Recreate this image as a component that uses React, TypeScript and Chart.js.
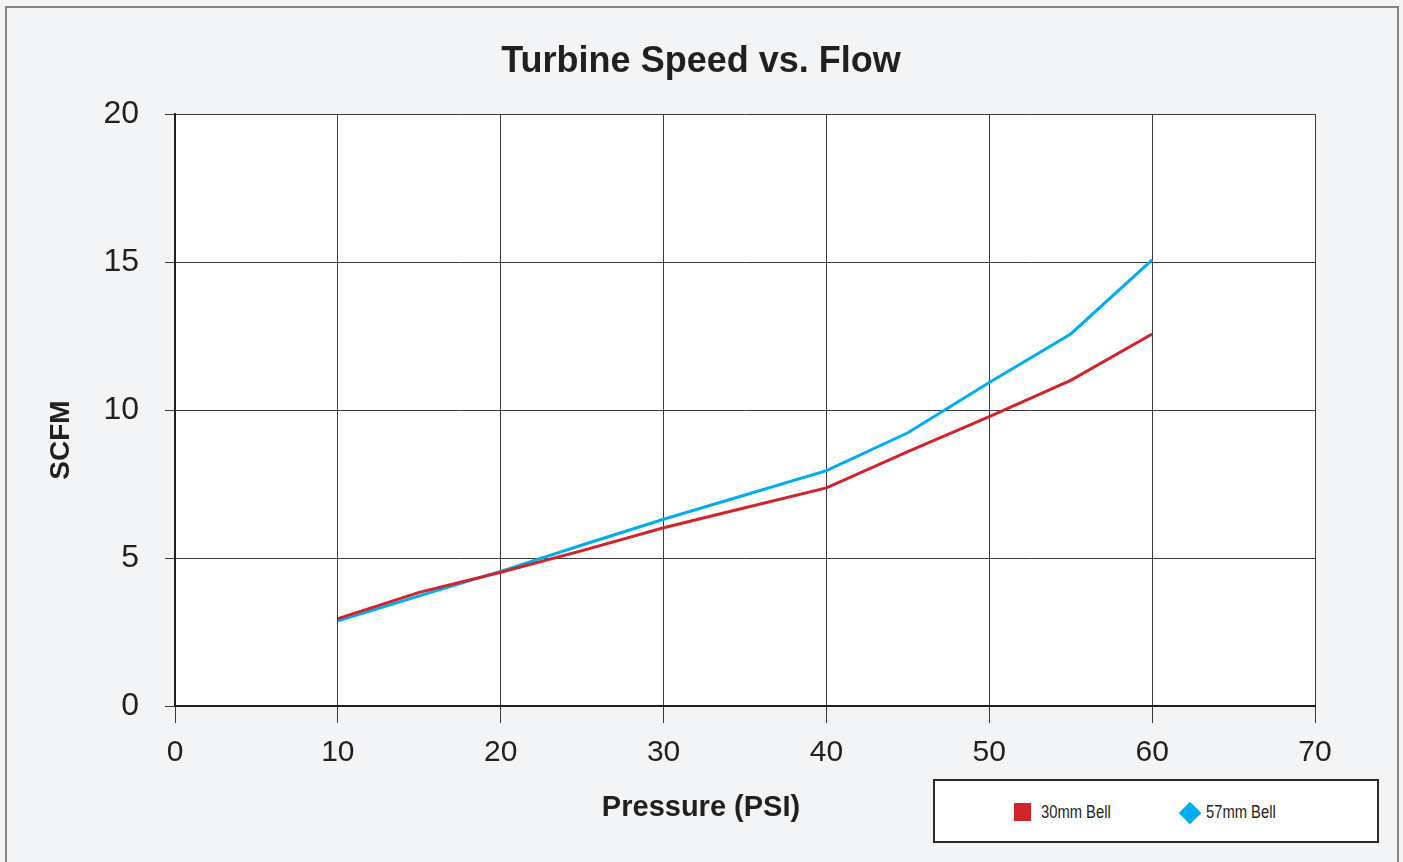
import React, { useEffect, useRef } from "react";
import { Chart, registerables } from "chart.js";

Chart.register(...registerables);

const pressure = [10, 15, 20, 25, 30, 35, 40, 45, 50, 55, 60];
const bell30 = [2.95, 3.84, 4.52, 5.25, 6.02, 6.7, 7.37, 8.59, 9.78, 11.0, 12.57];
const bell57 = [2.88, 3.72, 4.55, 5.44, 6.31, 7.13, 7.95, 9.23, 10.93, 12.57, 15.07];
const seriesNames = ["30mm Bell", "57mm Bell"];
const seriesColors = ["#d2232a", "#00aeef"];
const titleText = "Turbine Speed vs. Flow";
const xTitle = "Pressure (PSI)";
const yTitle = "SCFM";

const FONT = "'Liberation Sans', Arial, Helvetica, sans-serif";
const TEXT = "#231f20";

const backgroundPlugin = {
  id: "bgFrame",
  beforeDraw(chart: any) {
    const { ctx, chartArea } = chart;
    ctx.save();
    ctx.fillStyle = "#f3f4f6";
    ctx.fillRect(0, 0, chart.width, chart.height);
    ctx.strokeStyle = "#858585";
    ctx.lineWidth = 2;
    ctx.strokeRect(6, 7, 1392, 880);
    ctx.fillStyle = "#ffffff";
    ctx.fillRect(chartArea.left, chartArea.top, chartArea.right - chartArea.left, chartArea.bottom - chartArea.top);
    ctx.restore();
  },
  afterDraw(chart: any) {
    const { ctx } = chart;
    ctx.save();
    ctx.fillStyle = TEXT;
    ctx.textAlign = "center";
    ctx.textBaseline = "middle";
    ctx.font = `bold 36px ${FONT}`;
    ctx.fillText(titleText, 701, 62);
    ctx.font = `bold 29px ${FONT}`;
    ctx.fillText(xTitle, 701, 808);
    ctx.translate(61, 440);
    ctx.rotate(-Math.PI / 2);
    ctx.font = `bold 28px ${FONT}`;
    ctx.fillText(yTitle, 0, 0);
    ctx.restore();
  },
};

export default function App() {
  const ref = useRef<HTMLCanvasElement | null>(null);

  useEffect(() => {
    if (!ref.current) return;
    const chart = new Chart(ref.current, {
      type: "line",
      data: {
        datasets: [
          {
            label: seriesNames[0],
            data: pressure.map((p, i) => ({ x: p, y: bell30[i] })),
            borderColor: seriesColors[0],
            backgroundColor: seriesColors[0],
            borderWidth: 3,
            pointRadius: 0,
            tension: 0,
          },
          {
            label: seriesNames[1],
            data: pressure.map((p, i) => ({ x: p, y: bell57[i] })),
            borderColor: seriesColors[1],
            backgroundColor: seriesColors[1],
            borderWidth: 3,
            pointRadius: 0,
            tension: 0,
          },
        ],
      },
      options: {
        animation: false,
        responsive: true,
        maintainAspectRatio: false,
        layout: { padding: { left: 0, right: 88, top: 114, bottom: 0 } },
        plugins: {
          legend: { display: false },
          tooltip: { enabled: false },
          title: { display: false },
        },
        scales: {
          x: {
            type: "linear",
            min: 0,
            max: 70,
            ticks: {
              stepSize: 10,
              color: TEXT,
              font: { family: FONT, size: 30 },
              padding: 12,
            },
            grid: { color: "#3a3a3a", lineWidth: 1, tickLength: 17, drawTicks: true },
            border: { display: true, color: "#231f20", width: 2 },
            afterFit(scale: any) {
              scale.height = 156;
            },
          },
          y: {
            type: "linear",
            min: 0,
            max: 20,
            ticks: {
              stepSize: 5,
              color: TEXT,
              font: { family: FONT, size: 32 },
              padding: 26,
            },
            grid: { color: "#3a3a3a", lineWidth: 1, tickLength: 10, drawTicks: true },
            border: { display: true, color: "#231f20", width: 2 },
            afterFit(scale: any) {
              scale.width = 175;
            },
          },
        },
      },
      plugins: [backgroundPlugin],
    });
    return () => chart.destroy();
  }, []);

  const labelStyle: React.CSSProperties = {
    position: "absolute",
    top: 812 - 781 - 11,
    lineHeight: "22px",
    whiteSpace: "nowrap",
    transform: "scaleX(0.82)",
    transformOrigin: "left center",
  };

  return (
    <div style={{ position: "absolute", left: 0, top: 0, width: 1403, height: 862, overflow: "hidden" }}>
      <canvas ref={ref} />
      <div
        style={{
          position: "absolute",
          left: 933,
          top: 779,
          width: 442,
          height: 60,
          background: "#ffffff",
          border: "2px solid #2a2a2a",
          fontFamily: FONT,
          fontSize: 18,
          color: TEXT,
        }}
      >
        <div style={{ position: "absolute", left: 1014 - 935, top: 803 - 781, width: 17, height: 18, background: seriesColors[0] }} />
        <div style={{ ...labelStyle, left: 1041 - 935 }}>{seriesNames[0]}</div>
        <div
          style={{
            position: "absolute",
            left: 1190 - 935 - 8,
            top: 812.5 - 781 - 8,
            width: 16,
            height: 16,
            background: seriesColors[1],
            transform: "rotate(45deg)",
          }}
        />
        <div style={{ ...labelStyle, left: 1206 - 935 }}>{seriesNames[1]}</div>
      </div>
    </div>
  );
}
